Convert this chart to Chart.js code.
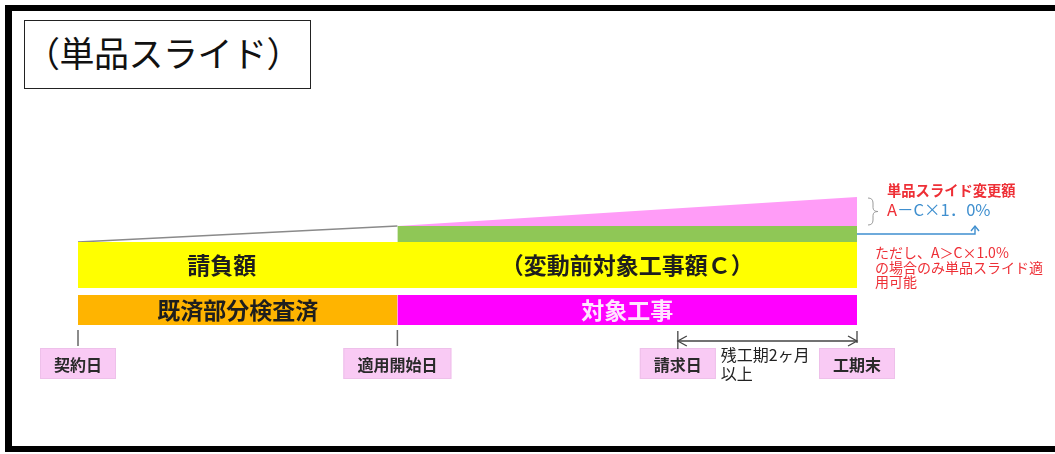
<!DOCTYPE html>
<html lang="ja">
<head>
<meta charset="utf-8">
<script src="https://cdn.jsdelivr.net/npm/chart.js@4.4.1/dist/chart.umd.min.js"></script>
<style>
  html, body { margin: 0; padding: 0; background: #fff; overflow: hidden; }
  #frame {
    position: absolute; left: 5px; top: 5px; width: 1100px; height: 447px;
    box-sizing: border-box; border-left: 7px solid #000; border-top: 6px solid #000; border-bottom: 6px solid #000;
  }
  #title {
    position: absolute; left: 24px; top: 20px; width: 287px; height: 69px;
    box-sizing: border-box; border: 1.5px solid #222;
    font-family: "Noto Sans CJK JP", sans-serif; font-size: 35px; line-height: 62px;
    color: #111; padding-left: 0px; white-space: nowrap; letter-spacing: -0.5px;
  }
  #chart { position: absolute; left: 0; top: 0; }
</style>
</head>
<body>
<div id="frame"></div>
<div id="title">（単品スライド）</div>
<canvas id="chart" width="1055" height="454"></canvas>
<script>
// milestones on the construction period (percent of period)
var milestoneLabels = ['契約日', '適用開始日', '請求日', '工期末'];
var milestoneTimes = [0, 41, 77, 100];

// amount bands (relative units)
var contractBand = [0, 46];     // 請負額
var riseBand = [46, 62];        // price change part after 適用開始日
var slideRise = [62, 91];       // wedge top at 適用開始日 / 工期末
var progressBand = [-37, -7];   // 既済部分 / 対象工事 row

var amountLabels = ['請負額', '（変動前対象工事額Ｃ）'];
var progressLabels = ['既済部分検査済', '対象工事'];
var remainLabel = ['残工期2ヶ月', '以上'];
var noteLines = ['ただし、A＞C×1.0%', 'の場合のみ単品スライド適', '用可能'];

var JP = '"Noto Sans CJK JP", sans-serif';

var tStart = milestoneTimes[0], tApply = milestoneTimes[1], tClaim = milestoneTimes[2], tEnd = milestoneTimes[3];

function band(points, color, base) {
    return {
        data: points,
        borderColor: 'transparent',
        borderWidth: 0,
        backgroundColor: color,
        fill: {value: base},
        pointRadius: 0
    };
}

var datasets = [
    band([{x: tStart, y: contractBand[1]}, {x: tEnd, y: contractBand[1]}], '#ffff00', contractBand[0]),
    band([{x: tApply, y: riseBand[1]}, {x: tEnd, y: riseBand[1]}], '#8fc756', riseBand[0]),
    band([{x: tApply, y: slideRise[0]}, {x: tEnd, y: slideRise[1]}], '#ff9cf7', slideRise[0]),
    band([{x: tStart, y: progressBand[1]}, {x: tApply, y: progressBand[1]}], '#ffb400', progressBand[0]),
    band([{x: tApply, y: progressBand[1]}, {x: tEnd, y: progressBand[1]}], '#ff00ff', progressBand[0]),
    {   // thin line from contract amount to start of wedge
        data: [{x: tStart, y: contractBand[1]}, {x: tApply, y: riseBand[1]}],
        borderColor: '#8a8a8a', borderWidth: 1.3, fill: false, pointRadius: 0
    },
    {   // faint divider in the yellow band
        data: [{x: tApply, y: contractBand[0]}, {x: tApply, y: contractBand[1]}],
        borderColor: '#e4e46a', borderWidth: 1, fill: false, pointRadius: 0
    }
];

function chevron(ctx, x, y, dir, len, half) {
    ctx.beginPath();
    if (dir === 'left' || dir === 'right') {
        var s = dir === 'left' ? 1 : -1;
        ctx.moveTo(x + s * len, y - half);
        ctx.lineTo(x, y);
        ctx.lineTo(x + s * len, y + half);
    } else {
        ctx.moveTo(x - half, y + len);
        ctx.lineTo(x, y);
        ctx.lineTo(x + half, y + len);
    }
    ctx.stroke();
}

var diagramText = {
    id: 'diagramText',
    afterDatasetsDraw: function(chart) {
        var ctx = chart.ctx;
        var xs = chart.scales.x, ys = chart.scales.y;
        var px = function(v) { return xs.getPixelForValue(v); };
        var py = function(v) { return ys.getPixelForValue(v); };
        ctx.save();
        ctx.textBaseline = 'middle';
        ctx.textAlign = 'center';

        // texts inside the bands
        var bandMid = (py(contractBand[0]) + py(contractBand[1])) / 2;
        ctx.fillStyle = '#1e1e1e';
        ctx.font = 'bold 23px ' + JP;
        ctx.fillText(amountLabels[0], px(tStart) + (px(tApply) - px(tStart)) * 0.45, bandMid);
        ctx.fillText(amountLabels[1], (px(tApply) + px(tEnd)) / 2, bandMid);

        var rowMid = (py(progressBand[0]) + py(progressBand[1])) / 2;
        ctx.font = 'bold 23px ' + JP;
        ctx.fillText(progressLabels[0], (px(tStart) + px(tApply)) / 2, rowMid);
        ctx.fillStyle = '#ffe4ff';
        ctx.fillText(progressLabels[1], (px(tApply) + px(tEnd)) / 2, rowMid);

        // milestone ticks and boxes
        var rowBottom = py(progressBand[0]);
        ctx.strokeStyle = '#666';
        ctx.lineWidth = 1.5;
        [tStart, tApply].forEach(function(t) {
            ctx.beginPath();
            ctx.moveTo(px(t), rowBottom + 5);
            ctx.lineTo(px(t), rowBottom + 21);
            ctx.stroke();
        });

        ctx.font = 'bold 16px ' + JP;
        var boxTop = rowBottom + 23, boxH = 31;
        milestoneLabels.forEach(function(lab, i) {
            var cx = px(milestoneTimes[i]);
            var w = ctx.measureText(lab).width + 28;
            ctx.fillStyle = '#f9caf4';
            ctx.fillRect(cx - w / 2, boxTop, w, boxH);
            ctx.strokeStyle = '#eec0ea';
            ctx.lineWidth = 1;
            ctx.strokeRect(cx - w / 2 + 0.5, boxTop + 0.5, w - 1, boxH - 1);
            ctx.fillStyle = '#2a2a2a';
            ctx.fillText(lab, cx, boxTop + boxH / 2 + 1);
        });

        // remaining period arrow
        var ay = rowBottom + 16;
        var x1 = px(tClaim), x2 = px(tEnd);
        ctx.strokeStyle = '#444';
        ctx.lineWidth = 1.3;
        ctx.beginPath();
        ctx.moveTo(x1, ay); ctx.lineTo(x2, ay);
        ctx.moveTo(x1, rowBottom + 6); ctx.lineTo(x1, rowBottom + 24);
        ctx.moveTo(x2, rowBottom + 6); ctx.lineTo(x2, rowBottom + 18);
        ctx.stroke();
        chevron(ctx, x1, ay, 'left', 9, 5);
        chevron(ctx, x2, ay, 'right', 9, 5);

        ctx.textAlign = 'left';
        ctx.fillStyle = '#222';
        ctx.font = '16px ' + JP;
        ctx.fillText(remainLabel[0], x1 + 43, boxTop + 7);
        ctx.fillText(remainLabel[1], x1 + 43, boxTop + 26);

        // brace next to the wedge
        var bx = x2 + 11;
        var bt = py(slideRise[1]) + 1, bb = py(slideRise[0]) - 1, bm = (bt + bb) / 2;
        ctx.strokeStyle = '#9a9a9a';
        ctx.lineWidth = 1;
        ctx.beginPath();
        ctx.moveTo(bx, bt);
        ctx.quadraticCurveTo(bx + 5, bt, bx + 5, bt + 5);
        ctx.lineTo(bx + 5, bm - 4);
        ctx.quadraticCurveTo(bx + 5, bm, bx + 10, bm);
        ctx.quadraticCurveTo(bx + 5, bm, bx + 5, bm + 4);
        ctx.lineTo(bx + 5, bb - 5);
        ctx.quadraticCurveTo(bx + 5, bb, bx, bb);
        ctx.stroke();

        // blue arrow from the green band
        var gy = (py(riseBand[0]) + py(riseBand[1])) / 2;
        ctx.strokeStyle = '#3f8fcf';
        ctx.lineWidth = 1.4;
        ctx.beginPath();
        ctx.moveTo(x2, gy);
        ctx.lineTo(x2 + 118, gy);
        ctx.lineTo(x2 + 118, gy - 8);
        ctx.stroke();
        chevron(ctx, x2 + 118, gy - 8, 'up', 5, 4);

        // annotation texts
        var tx = x2 + 30;
        ctx.fillStyle = '#ee2f36';
        ctx.font = 'bold 14.3px ' + JP;
        ctx.fillText('単品スライド変更額', tx, py(slideRise[1]) - 6);

        ctx.font = '16.5px ' + JP;
        var fy = py(slideRise[1]) + 13;
        ctx.fillText('A', tx, fy);
        ctx.fillStyle = '#3f8fcf';
        ctx.fillText('－C×1．0%', tx + ctx.measureText('A').width, fy);

        ctx.fillStyle = '#ee2f36';
        ctx.font = '14px ' + JP;
        noteLines.forEach(function(line, i) {
            ctx.fillText(line, x2 + 18, gy + 19 + i * 14.5);
        });

        ctx.restore();
    }
};

var pxPerUnit = (857 - 78) / (tEnd - tStart);

new Chart(document.getElementById('chart'), {
    type: 'line',
    data: {datasets: datasets},
    options: {
        responsive: false,
        animation: false,
        events: [],
        layout: {padding: 0},
        plugins: {legend: {display: false}, tooltip: {enabled: false}},
        elements: {line: {tension: 0}, point: {radius: 0}},
        scales: {
            x: {type: 'linear', display: false, min: tStart - 78 / pxPerUnit, max: tStart + (1055 - 78) / pxPerUnit},
            y: {type: 'linear', display: false, min: -166, max: 288}
        }
    },
    plugins: [diagramText]
});
</script>
</body>
</html>
